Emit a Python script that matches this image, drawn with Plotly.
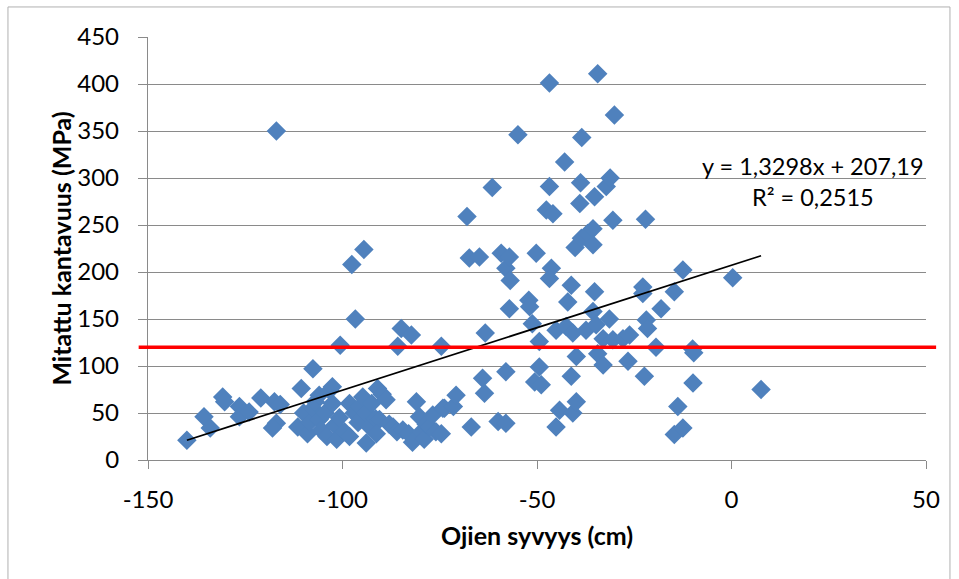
import plotly.graph_objects as go

# Ditch depth (cm) and measured bearing capacity (MPa)
depth_cm = [
    -140, -135.6, -134, -130.8, -130.3, -126.5, -126.5, -124, -121, -117.5,
    -117, -117, -118, -116,
    -111.5, -110.6, -110, -109, -108.5, -107.6, -107.6, -107, -106, -106,
    -105.5, -104.5, -104, -103.3, -102.6, -102.6, -102, -101.5, -100.8, -100.6,
    -99.5, -98.2, -98.2, -97.6, -97, -96.7, -96, -95.5, -94.8, -94.5,
    -94, -93.9, -93, -92.5, -91.5, -91, -90.5, -91.3, -89.8, -88.8, -88,
    -87, -86, -85.8, -84.9, -84.5, -83, -82.3, -81, -80.2, -80.2, -82,
    -79, -78.5, -77.6, -76.8, -76, -74.6, -74.6, -74.2, -73.8, -71.5, -70.8,
    -68, -67.4, -66.9, -64.8, -64, -63.5, -63.3, -61.5, -60, -59.2, -58,
    -58, -58, -57.1, -56.9, -57.1, -54.9,
    -52.1, -51.9, -51.2, -50.2, -50.6, -49.4, -49.4, -48.9, -47.6, -46.8,
    -46.8, -46.3, -46.8, -45.9, -45.1, -45.1, -44.2, -42.9, -42.5, -42.1,
    -41.2, -41.2, -40.8, -40.8, -40.2, -39.9, -39.9,
    -39, -38.8, -38.6, -38.5, -37.4, -37, -35.6, -35.6, -35.6, -35.2,
    -35.2, -34.8, -34.4, -34.4, -33, -33, -32.2, -31.2, -31.4, -30.5,
    -30.5, -30.1, -27.9, -26.6, -26.2, -22.8, -22.8, -22.4, -22.1, -21.9, -21.6,
    -19.4, -18.1, -14.7, -14.7, -13.8, -12.5, -12.5, -10, -9.7, -9.9, 0.3, 7.6,
]
capacity_mpa = [
    21, 46, 34, 67, 62, 57, 46, 51, 66, 62,
    350, 39, 34, 59,
    35, 76, 50, 28, 40, 97, 55, 62, 69, 43,
    32, 50, 25, 74, 78, 60, 37, 22, 45, 122,
    30, 60, 25, 208, 50, 150, 40, 57, 67, 224,
    50, 18, 35, 60, 44, 76, 43, 28, 70, 64, 38,
    35, 30, 121, 140, 32, 28, 133, 62, 46, 28, 19,
    22, 38, 35, 48, 30, 121, 28, 55, 55, 57, 69,
    259, 215, 35, 216, 87, 71, 135, 290, 41, 220, 94,
    204, 39, 216, 191, 161, 346,
    170, 163, 145, 220, 83, 126, 99, 80, 266, 401,
    291, 204, 193, 262, 138, 35, 53, 317, 142, 168,
    186, 89, 135, 50, 226, 110, 62,
    273, 295, 236, 343, 138, 241, 246, 229, 158, 280,
    179, 144, 411, 113, 129, 101, 291, 300, 150, 255,
    128, 367, 129, 105, 133, 184, 177, 89, 256, 149, 140,
    120, 161, 179, 27, 57, 202, 34, 118, 114, 82, 194, 75,
]

# Linear trend as stated on the chart
trend_slope = 1.3298
trend_intercept = 207.19
threshold_mpa = 120

x_ticks = [-150, -100, -50, 0, 50]
y_ticks = [0, 50, 100, 150, 200, 250, 300, 350, 400, 450]

trend_x = [min(depth_cm), max(depth_cm)]
trend_y = [trend_slope * v + trend_intercept for v in trend_x]

FONT = "Lato"
GRID = "#8a8a8a"
TICK_SIZE = 24

fig = go.Figure()
fig.add_trace(go.Scatter(
    x=depth_cm, y=capacity_mpa, mode="markers",
    marker=dict(symbol="diamond", size=15, color="#4F81BD", line=dict(width=0)),
    showlegend=False, hoverinfo="x+y",
))
fig.add_trace(go.Scatter(
    x=trend_x, y=trend_y, mode="lines",
    line=dict(color="black", width=1.8),
    showlegend=False, hoverinfo="skip",
))

# Threshold line at 120 MPa, slightly wider than the plot area
fig.add_shape(type="line", xref="paper", yref="y",
              x0=-0.012, x1=1.013, y0=threshold_mpa, y1=threshold_mpa,
              line=dict(color="#FF0000", width=3.5))

# Chart border
fig.add_shape(type="rect", xref="paper", yref="paper",
              x0=-0.18, x1=1.0308, y0=-0.30, y1=1.071,
              line=dict(color="#b0b0b0", width=1), layer="below")

fig.update_layout(
    width=959, height=579,
    margin=dict(l=148, r=33, t=37, b=119),
    paper_bgcolor="white", plot_bgcolor="white",
    font=dict(family=FONT, size=TICK_SIZE, color="black"),
    xaxis=dict(
        range=[-150, 50], tickvals=x_ticks, ticktext=[str(v) for v in x_ticks],
        showgrid=False, zeroline=False,
        showline=True, linecolor=GRID, linewidth=1.3,
        ticks="outside", ticklen=8, tickcolor=GRID, tickwidth=1.3,
        ticklabelstandoff=10, tickfont=dict(family=FONT, size=TICK_SIZE),
    ),
    yaxis=dict(
        range=[0, 450], tickvals=y_ticks, ticktext=[str(v) for v in y_ticks],
        showgrid=True, gridcolor=GRID, gridwidth=1.3, zeroline=False,
        showline=True, linecolor=GRID, linewidth=1.3,
        ticks="outside", ticklen=9, tickcolor=GRID, tickwidth=1.3,
        ticklabelstandoff=14, tickfont=dict(family=FONT, size=TICK_SIZE),
    ),
    annotations=[
        dict(text="<b>Ojien syvyys (cm)</b>", xref="paper", yref="paper",
             x=0.5, y=-0.177, xanchor="center", yanchor="middle",
             showarrow=False, font=dict(family=FONT, size=25)),
        dict(text="<b>Mitattu kantavuus (MPa)</b>", xref="paper", yref="paper",
             x=-0.113, y=0.5, xanchor="center", yanchor="middle", textangle=-90,
             showarrow=False, font=dict(family=FONT, size=25)),
        dict(text="y = 1,3298x + 207,19", xref="paper", yref="paper",
             x=0.855, y=0.695, xanchor="center", yanchor="middle",
             showarrow=False, font=dict(family=FONT, size=23.5)),
        dict(text="R² = 0,2515", xref="paper", yref="paper",
             x=0.855, y=0.622, xanchor="center", yanchor="middle",
             showarrow=False, font=dict(family=FONT, size=23.5)),
    ],
)

fig.write_html("out.html")
